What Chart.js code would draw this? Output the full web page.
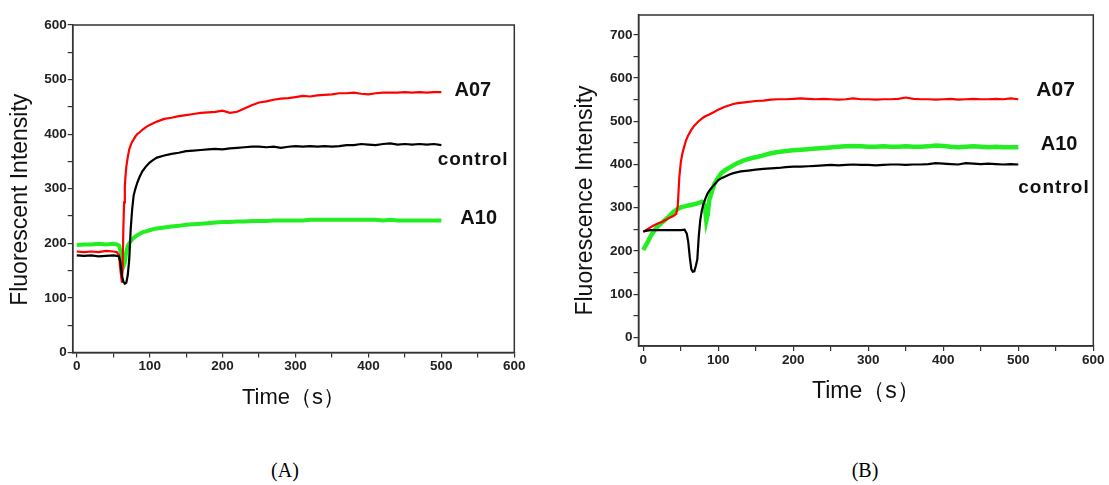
<!DOCTYPE html>
<html>
<head>
<meta charset="utf-8">
<script src="https://cdn.jsdelivr.net/npm/chart.js@4.4.0/dist/chart.umd.min.js"></script>
<style>
    body { margin: 0; background: #fff; width: 1109px; height: 485px; position: relative; overflow: hidden; }
    .panel { position: absolute; top: 0; height: 420px; }
    #panelA { left: 0; width: 540px; }
    #panelB { left: 560px; width: 549px; }
    .caption { position: absolute; top: 459px; font: 20px "Liberation Serif", "Times New Roman", serif; color: #000; transform: translateX(-50%); }
</style>
</head>
<body>
<div class="panel" id="panelA"><canvas id="chartA" width="540" height="420"></canvas></div>
<div class="panel" id="panelB"><canvas id="chartB" width="549" height="420"></canvas></div>
<div class="caption" style="left:285px">(A)</div>
<div class="caption" style="left:865px">(B)</div>
<script>
// ===== DATA: panel A =====
const timeA_control = [0, 10, 20, 30, 40, 50, 55, 58, 60, 62, 64, 66, 68, 70, 72, 74, 76, 78, 80, 83, 86, 90, 95, 100, 105, 110,
    120, 130, 140, 150, 160, 170, 180, 190, 200, 210, 220, 230, 240, 250, 260, 270, 280, 290, 300, 310, 320, 330, 340, 350,
    360, 370, 380, 390, 400, 410, 420, 430, 440, 450, 460, 470, 480, 490, 500];
const controlA = [178, 177, 178, 176, 177, 178, 177, 176, 165, 140, 130, 126, 128, 142, 170, 225, 262, 287, 298, 311, 321, 332, 341, 348, 353, 357,
    361, 364, 366, 369, 370, 371, 372, 373, 372, 374, 375, 376, 377, 377, 376, 377, 375, 377, 378, 377, 378, 377, 378, 377,
    378, 380, 380, 382, 381, 380, 382, 383, 381, 382, 381, 382, 381, 382, 380];

const timeA_a07 = [0, 10, 20, 30, 40, 50, 55, 58, 60, 62, 63, 64, 65, 66, 67, 68, 70, 72, 74, 76, 78, 80, 83, 86, 90, 95, 100, 105, 110,
    120, 130, 140, 150, 160, 170, 180, 190, 200, 210, 220, 230, 240, 250, 260, 270, 280, 290, 300, 310, 320, 330, 340, 350,
    360, 370, 380, 390, 400, 410, 420, 430, 440, 450, 460, 470, 480, 490, 500];
const a07A = [185, 184, 185, 184, 186, 185, 184, 178, 150, 128, 160, 230, 275, 305, 325, 340, 358, 372, 380, 386, 390, 395, 400, 403, 408, 413, 417, 420, 423,
    428, 430, 433, 435, 437, 439, 440, 441, 443, 439, 441, 447, 453, 458, 460, 463, 465, 466, 468, 470, 469, 471, 472, 473,
    475, 475, 476, 474, 473, 475, 476, 476, 476, 477, 476, 477, 476, 477, 477];

const timeA_a10 = timeA_control;
const a10A = [197, 198, 198, 199, 198, 199, 198, 196, 185, 170, 158, 165, 185, 195, 200, 204, 207, 210, 212, 215, 217, 220, 222, 224, 226, 227,
    229, 231, 232, 234, 235, 236, 237, 238, 239, 239, 240, 240, 241, 241, 241, 242, 242, 242, 242, 242, 243, 243, 243, 243,
    243, 243, 243, 243, 243, 243, 242, 243, 242, 242, 242, 242, 242, 242, 242];

// ===== DATA: panel B =====
const timeB_control = [0, 5, 10, 20, 30, 40, 50, 55, 58, 60, 62, 64, 66, 68, 70, 72, 74, 76, 78, 80, 83, 86, 90, 95, 100, 105, 110, 115, 120,
    130, 140, 150, 160, 170, 180, 190, 200, 210, 220, 230, 240, 250, 260, 270, 280, 290, 300, 310, 320, 330, 340, 350,
    360, 370, 380, 390, 400, 410, 420, 430, 440, 450, 460, 470, 480, 490, 500];
const controlB = [245, 247, 248, 248, 248, 248, 248, 249, 240, 220, 185, 158, 152, 153, 165, 180, 235, 272, 293, 308, 322, 334, 344, 354, 364, 369, 373, 377, 380,
    384, 386, 388, 390, 391, 392, 394, 395, 395, 396, 397, 398, 399, 398, 399, 400, 399, 399, 398, 399, 400, 400, 399,
    400, 400, 401, 403, 402, 401, 400, 403, 402, 401, 402, 401, 400, 401, 400];

const timeB_a07 = [0, 5, 10, 15, 20, 25, 30, 35, 40, 44, 46, 48, 50, 52, 54, 57, 60, 64, 68, 73, 78, 82, 88, 95, 100, 108, 115, 120, 126, 135, 150,
    160, 170, 180, 190, 200, 210, 220, 230, 240, 250, 260, 270, 280, 290, 300, 310, 320, 330, 340, 350,
    360, 370, 380, 390, 400, 410, 420, 430, 440, 450, 460, 470, 480, 490, 500];
const a07B = [244, 250, 255, 260, 264, 267, 272, 277, 281, 286, 305, 370, 405, 425, 438, 456, 468, 480, 490, 499, 506, 511, 516, 522, 527, 533, 537, 540, 542, 544, 547,
    548, 550, 551, 551, 552, 553, 552, 551, 552, 551, 550, 551, 553, 551, 551, 550, 551, 551, 552, 555,
    552, 551, 551, 550, 551, 552, 550, 551, 552, 551, 551, 552, 551, 553, 551];

const timeB_a10 = [0, 3, 6, 10, 15, 20, 25, 30, 35, 40, 45, 50, 55, 60, 65, 70, 75, 78, 80, 82, 84, 86, 88, 92, 95, 100, 104, 110, 117, 125,
    135, 145, 153, 160, 170, 180, 193, 200, 215, 230, 245, 260, 270,
    280, 290, 300, 310, 320, 330, 340, 350, 360, 370, 380, 390, 400, 410, 420, 430, 440, 450, 460, 470, 480, 490, 500];
const a10B = [202, 212, 221, 235, 248, 258, 266, 273, 281, 290, 296, 301, 303, 305, 307, 309, 312, 314, 312, 305, 270, 285, 318, 340, 356, 370, 380, 388, 395, 403,
    410, 415, 418, 421, 426, 429, 432, 433, 435, 437, 439, 441, 442,
    443, 442, 441, 441, 442, 441, 441, 442, 441, 441, 442, 444, 443, 441, 440, 441, 442, 441, 440, 441, 440, 440, 440];

// ===== HELPERS =====
function toPoints(times, values) {
    return times.map((t, i) => ({ x: t, y: values[i] }));
}

const frameColor = '#333';
const sansFamily = '"Liberation Sans", Arial, sans-serif';

// box around the plot area (top and right edges have no ticks)
const framePlugin = {
    id: 'frame',
    afterDatasetsDraw(chart) {
        const { ctx, chartArea: a } = chart;
        ctx.save();
        ctx.strokeStyle = frameColor;
        ctx.lineWidth = 1.5;
        ctx.strokeRect(a.left, a.top, a.right - a.left, a.bottom - a.top);
        ctx.restore();
    }
};

// vertical axis title, sitting a bit below the middle of the plot like the original
const yTitlePlugin = {
    id: 'yTitle',
    afterDraw(chart, args, opts) {
        const { ctx, chartArea: a } = chart;
        ctx.save();
        ctx.translate(opts.x, (a.top + a.bottom) / 2 + opts.shift);
        ctx.rotate(-Math.PI / 2);
        ctx.font = opts.size + 'px ' + sansFamily;
        ctx.fillStyle = '#111';
        ctx.textAlign = 'center';
        ctx.textBaseline = 'middle';
        ctx.fillText(opts.text, 0, 0);
        ctx.restore();
    }
};

// curve names written next to the end of each trace
const curveLabelPlugin = {
    id: 'curveLabels',
    afterDraw(chart, args, opts) {
        const { ctx, scales } = chart;
        ctx.save();
        ctx.fillStyle = '#111';
        ctx.textAlign = 'left';
        ctx.textBaseline = 'middle';
        (opts.items || []).forEach(item => {
            ctx.font = 'bold ' + item.size + 'px ' + sansFamily;
            ctx.letterSpacing = (item.spacing || 0) + 'px';
            ctx.fillText(item.text, scales.x.getPixelForValue(item.x), scales.y.getPixelForValue(item.y));
        });
        ctx.restore();
    }
};

function makeChart(canvasId, cfg) {
    const tickFont = { family: sansFamily, size: 13.5, weight: 'bold' };
    return new Chart(document.getElementById(canvasId), {
        type: 'line',
        data: {
            datasets: [
                { label: 'control', data: cfg.control, borderColor: '#000', borderWidth: 2.2 },
                { label: 'A07', data: cfg.a07, borderColor: '#ff0000', borderWidth: 2.2 },
                { label: 'A10', data: cfg.a10, borderColor: '#22ee22', borderWidth: cfg.greenWidth }
            ]
        },
        options: {
            responsive: false,
            animation: false,
            devicePixelRatio: 1,
            layout: { padding: cfg.padding },
            elements: { point: { radius: 0, hoverRadius: 0 }, line: { tension: 0 } },
            plugins: {
                legend: { display: false },
                tooltip: { enabled: false },
                curveLabels: { items: cfg.labels },
                yTitle: cfg.yTitle
            },
            scales: {
                x: {
                    type: 'linear',
                    min: cfg.xMin, max: 600,
                    afterFit: s => { s.height = cfg.xHeight; },
                    border: { color: frameColor, width: 1.5 },
                    grid: { drawOnChartArea: false, color: frameColor, tickLength: 5, lineWidth: 1.2 },
                    ticks: {
                        stepSize: 50, autoSkip: false, includeBounds: false, maxRotation: 0, padding: 1,
                        color: '#222', font: tickFont,
                        callback: v => (v % 100 === 0 ? v : '')
                    },
                    title: {
                        display: true, text: 'Time（s）', color: '#111',
                        font: { family: sansFamily, size: cfg.xTitleSize },
                        padding: { top: 0, bottom: cfg.xTitlePad }
                    }
                },
                y: {
                    min: cfg.yMin, max: cfg.yMax,
                    afterFit: s => { s.width = cfg.yWidth; },
                    border: { color: frameColor, width: 1.5 },
                    grid: { drawOnChartArea: false, color: frameColor, tickLength: 5, lineWidth: 1.2 },
                    ticks: {
                        stepSize: 50, autoSkip: false, includeBounds: false, padding: 1,
                        color: '#222', font: tickFont,
                        callback: v => (v % 100 === 0 ? v : '')
                    }
                }
            }
        },
        plugins: [framePlugin, curveLabelPlugin, yTitlePlugin]
    });
}

document.addEventListener('DOMContentLoaded', function() {
    makeChart('chartA', {
        control: toPoints(timeA_control, controlA),
        a07: toPoints(timeA_a07, a07A),
        a10: toPoints(timeA_a10, a10A),
        greenWidth: 4,
        xMin: -5.5, yMin: 0, yMax: 600,
        padding: { left: 0, top: 25, right: 25.7, bottom: 0 },
        yWidth: 72.7, xHeight: 67.5,
        yTitle: { text: 'Fluorescent Intensity', size: 23, x: 20.7, shift: 11 },
        xTitleSize: 22, xTitlePad: 8.5,
        labels: [
            { text: 'A07', x: 518, y: 480, size: 20 },
            { text: 'control', x: 495, y: 354, size: 19, spacing: 0.9 },
            { text: 'A10', x: 526, y: 246, size: 20 }
        ]
    });

    makeChart('chartB', {
        control: toPoints(timeB_control, controlB),
        a07: toPoints(timeB_a07, a07B),
        a10: toPoints(timeB_a10, a10B),
        greenWidth: 4.5,
        xMin: -6.4, yMin: -20, yMax: 746,
        padding: { left: 0, top: 15, right: 15.7, bottom: 0 },
        yWidth: 78.5, xHeight: 74,
        yTitle: { text: 'Fluorescence Intensity', size: 23, x: 26, shift: 20 },
        xTitleSize: 23, xTitlePad: 14.5,
        labels: [
            { text: 'A07', x: 524, y: 571, size: 21 },
            { text: 'A10', x: 530, y: 447, size: 20 },
            { text: 'control', x: 500, y: 347, size: 19, spacing: 1 }
        ]
    });
});
</script>
</body>
</html>
